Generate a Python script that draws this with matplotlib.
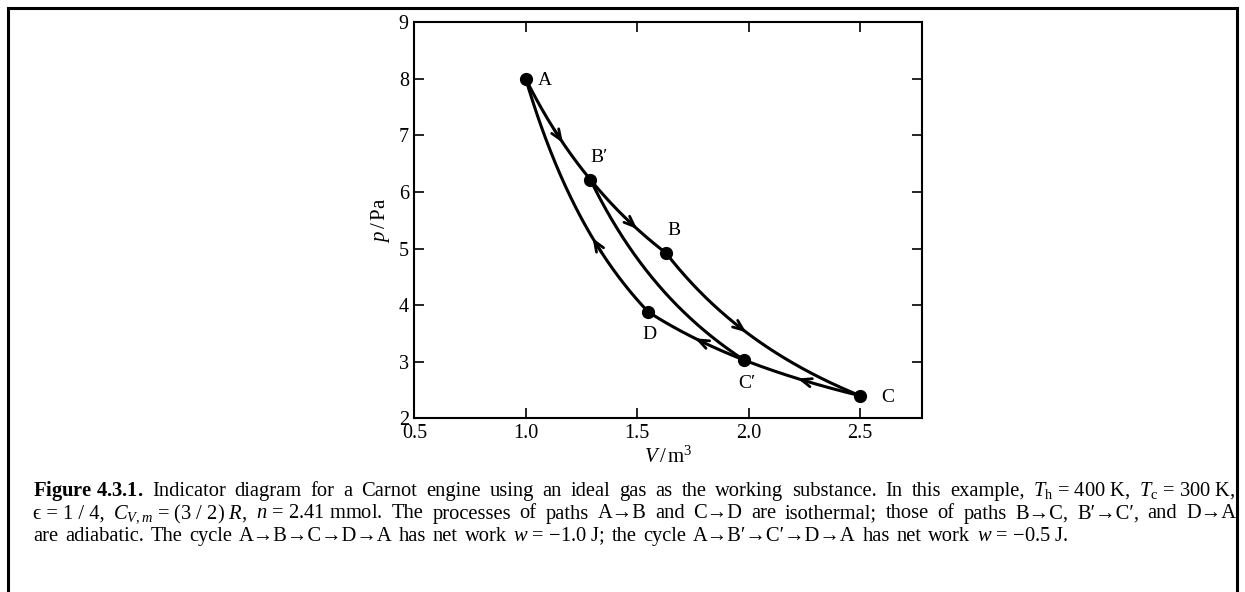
import numpy as np
import matplotlib
matplotlib.use("Agg")
import matplotlib.pyplot as plt
from matplotlib.patches import Rectangle

plt.rcParams['font.family'] = ['Liberation Serif', 'DejaVu Serif']
plt.rcParams['mathtext.fontset'] = 'custom'
plt.rcParams['mathtext.rm'] = 'Liberation Serif'
plt.rcParams['mathtext.it'] = 'Liberation Serif:italic'
plt.rcParams['mathtext.bf'] = 'Liberation Serif:bold'

# state points (V in m^3, p in Pa)
names = ["A", "B\u2032", "B", "C", "C\u2032", "D"]
V_pts = [1.00, 1.29, 1.63, 2.50, 1.98, 1.55]
p_pts = [8.00, 6.22, 4.92, 2.40, 3.03, 3.88]

# paths between states (start, end) and where an arrow sits (V), None = no arrow
paths = [("A", "B\u2032"), ("B\u2032", "B"), ("B", "C"), ("C", "C\u2032"),
         ("C\u2032", "D"), ("D", "A"), ("B\u2032", "C\u2032")]
arrow_V = [1.167, 1.50, 1.99, 2.22, 1.76, 1.30, None]

xticks = [0.5, 1.0, 1.5, 2.0, 2.5]
yticks = [2, 3, 4, 5, 6, 7, 8, 9]

pts = {n: (v, p) for n, v, p in zip(names, V_pts, p_pts)}

fig = plt.figure(figsize=(12.45, 5.92), dpi=100)
ax = fig.add_axes([0.3328, 0.2934, 0.4075, 0.6689])


def path_curve(a, b):
    # power-law path p*V^k = const through the two read state points
    V1, p1 = pts[a]
    V2, p2 = pts[b]
    k = np.log(p1 / p2) / np.log(V2 / V1)
    V = np.linspace(V1, V2, 200)
    return V, p1 * (V1 / V) ** k, k, V1, p1


for (a, b), va in zip(paths, arrow_V):
    V, p, k, V1, p1 = path_curve(a, b)
    ax.plot(V, p, color='black', lw=2.2, solid_capstyle='round', zorder=2)
    if va is not None:
        d = 0.04 if pts[b][0] > pts[a][0] else -0.04
        v0 = va - d
        ax.annotate("", xy=(va, p1 * (V1 / va) ** k),
                    xytext=(v0, p1 * (V1 / v0) ** k),
                    arrowprops=dict(arrowstyle="->,head_length=0.75,head_width=0.3",
                                    color='black', lw=2.0, shrinkA=0, shrinkB=0),
                    zorder=3)

ax.plot(V_pts, p_pts, 'o', color='black', ms=8.5, zorder=4)

offsets = {"A": (14, -1), "B\u2032": (6, 16), "B": (6, 16), "D": (0.5, -16.5),
           "C\u2032": (2, -17), "C": (20, -1)}
for n in names:
    ax.annotate(n, xy=pts[n], xytext=offsets[n], textcoords='offset points',
                ha='center', va='center', fontsize=14)

ax.set_xlim(0.5, 2.777)
ax.set_ylim(2, 9)
ax.set_xticks(xticks)
ax.set_xticklabels([f"{t:.1f}" for t in xticks])
ax.set_yticks(yticks)
ax.tick_params(direction='in', length=7, width=1.2, top=True, right=True,
               labelsize=14.5, pad=4)
for s in ax.spines.values():
    s.set_linewidth(1.5)
ax.set_xlabel(r"$V\,/\,\mathrm{m}^3$", fontsize=15, labelpad=3)
ax.set_ylabel(r"$p\,/\,$Pa", fontsize=15, labelpad=5)

# frame around the whole figure
fig.patches.append(Rectangle((8 / 1245, -0.02), 1229 / 1245, 1.02 - 8 / 592,
                             transform=fig.transFigure, fill=False,
                             edgecolor='black', lw=2.2))

# caption; '§' marks a space that is not stretched when justifying
cap_lines = [
    r"$\mathbf{Figure\§4.3.1.}$ Indicator diagram for a Carnot engine using an ideal gas as the working substance. In this example, $T_{\mathrm{h}}$§=§400§K, $T_{\mathrm{c}}$§=§300§K,",
    "\u03f5§=§1§/§4, $C_{V,m}$§=§(3§/§2)§$R$, $n$§=§2.41§mmol. The processes of paths A\u2192B and C\u2192D are isothermal; those of paths B\u2192C, B\u2032\u2192C\u2032, and D\u2192A",
    "are adiabatic. The cycle A\u2192B\u2192C\u2192D\u2192A has net work $w$§=§\u22121.0§J; the cycle A\u2192B\u2032\u2192C\u2032\u2192D\u2192A has net work $w$§=§\u22120.5§J.",
]
justify = [True, True, False]
cap_size = 14.8
x0_px, x1_px = 33, 1236
renderer = fig.canvas.get_renderer()
tmp1 = fig.text(0, 0, "a a", fontsize=cap_size)
tmp2 = fig.text(0, 0, "aa", fontsize=cap_size)
sw = tmp1.get_window_extent(renderer).width - tmp2.get_window_extent(renderer).width
tmp1.remove()
tmp2.remove()
for i, line in enumerate(cap_lines):
    y = 1 - (496 + 22.5 * i) / 592
    words = [w.replace("§", " ") for w in line.split(" ")]
    arts = [fig.text(0, y, w, ha='left', va='baseline', fontsize=cap_size) for w in words]
    widths = [a.get_window_extent(renderer).width for a in arts]
    if justify[i]:
        gap = (x1_px - x0_px - sum(widths)) / (len(words) - 1)
    else:
        gap = sw * 1.3
    x = x0_px
    for a, w in zip(arts, widths):
        a.set_x(x / 1245)
        x += w + gap

fig.savefig("out.png", dpi=100)
